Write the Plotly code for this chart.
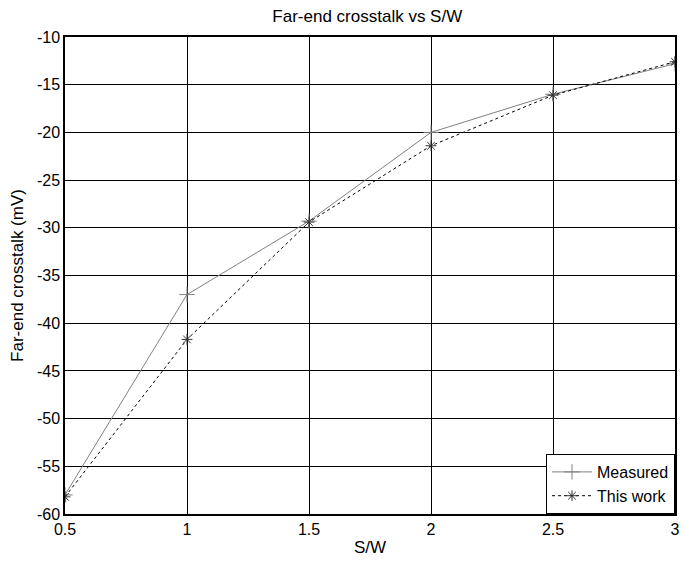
import plotly.graph_objects as go

# Spacing-to-width ratio and far-end crosstalk (mV)
s_over_w = [0.5, 1.0, 1.5, 2.0, 2.5, 3.0]
measured = [-58.0, -37.0, -29.3, -20.0, -16.0, -12.8]
this_work = [-58.2, -41.7, -29.4, -21.4, -16.1, -12.6]

x_ticks = [0.5, 1, 1.5, 2, 2.5, 3]
x_tick_labels = ["0.5", "1", "1.5", "2", "2.5", "3"]
y_ticks = [-60, -55, -50, -45, -40, -35, -30, -25, -20, -15, -10]
y_tick_labels = ["-60", "-55", "-50", "-45", "-40", "-35", "-30", "-25",
                 "-20", "-15", "-10"]

font = "Liberation Sans, Arial, sans-serif"

fig = go.Figure()
fig.add_trace(go.Scatter(
    x=s_over_w, y=measured, name="Measured", mode="lines+markers",
    line=dict(color="#808080", width=1),
    marker=dict(symbol="cross-thin", size=11, color="#808080",
                line=dict(color="#808080", width=1)),
))
fig.add_trace(go.Scatter(
    x=s_over_w, y=this_work, name="This work", mode="lines+markers",
    line=dict(color="black", width=1, dash="dot"),
    marker=dict(symbol="asterisk", size=9, color="black",
                line=dict(color="#333333", width=1)),
))

axis_common = dict(
    showgrid=True, gridcolor="black", gridwidth=1,
    showline=True, linecolor="black", linewidth=1.5, mirror=True,
    ticks="inside", ticklen=4, tickcolor="black",
    zeroline=False, tickfont=dict(family=font, size=16, color="black"),
)

fig.update_layout(
    width=684, height=566,
    margin=dict(l=65, r=4, t=37, b=52),
    paper_bgcolor="white", plot_bgcolor="white",
    title=dict(text="Far-end crosstalk vs S/W", x=0.537, xanchor="center",
               y=0.972, yanchor="middle",
               font=dict(family=font, size=17, color="black")),
    xaxis=dict(range=[0.5, 3], tickvals=x_ticks, ticktext=x_tick_labels,
               title=dict(text="S/W", standoff=4,
                          font=dict(family=font, size=17, color="black")),
               **axis_common),
    yaxis=dict(range=[-60, -10], tickvals=y_ticks, ticktext=y_tick_labels,
               title=dict(text="Far-end crosstalk (mV)", standoff=9,
                          font=dict(family=font, size=17, color="black")),
               **axis_common),
    legend=dict(x=1, xanchor="right", y=0, yanchor="bottom",
                bgcolor="white", bordercolor="black", borderwidth=1,
                font=dict(family=font, size=16, color="black"),
                tracegroupgap=0, itemwidth=40),
    showlegend=True,
)

fig.write_html("out.html")
